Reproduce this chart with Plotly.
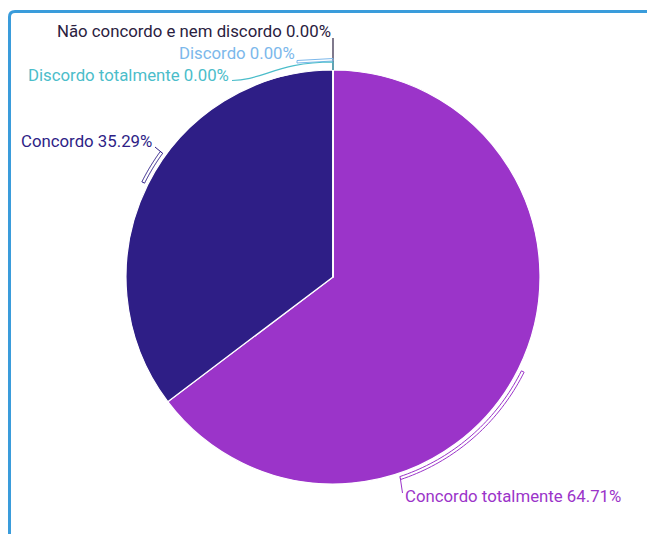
import math
import plotly.graph_objects as go

# Survey answers and their shares (percent)
categories = [
    "Concordo totalmente",
    "Concordo",
    "Não concordo e nem discordo",
    "Discordo",
    "Discordo totalmente",
]
shares = [64.71, 35.29, 0.0, 0.0, 0.0]
slice_colors = ["#9b34c9", "#2e1e86", "#2a2140", "#7cb8eb", "#4bbdca"]

W, H = 647, 534
CX, CY, R = 333, 277, 207  # pie centre and radius in page pixels

fig = go.Figure()

# Hidden pixel-space axes used for the frame, connectors and labels
fig.add_trace(go.Scatter(x=[], y=[], showlegend=False, hoverinfo="skip"))

fig.add_trace(go.Pie(
    labels=categories,
    values=shares,
    sort=False,
    direction="clockwise",
    rotation=0,
    marker=dict(colors=slice_colors, line=dict(color="white", width=1.2)),
    textinfo="none",
    hovertemplate="%{label}: %{percent:.2%}<extra></extra>",
    domain=dict(x=[(CX - R) / W, (CX + R) / W],
                y=[(H - CY - R) / H, (H - CY + R) / H]),
    showlegend=False,
))


def polar(theta_deg, r):
    t = math.radians(theta_deg)
    return CX + r * math.sin(t), CY - r * math.cos(t)


def band_path(a0, a1, r_in, r_out, n=40):
    pts = [polar(a0 + (a1 - a0) * i / n, r_out) for i in range(n + 1)]
    pts += [polar(a1 - (a1 - a0) * i / n, r_in) for i in range(n + 1)]
    return "M " + " L ".join(f"{x:.2f},{y:.2f}" for x, y in pts) + " Z"


# Slice mid angles from the values
total = sum(shares)
mids = []
acc = 0.0
for v in shares:
    mids.append((acc + v / 2) / total * 360)
    acc += v

shapes = []

# Outer frame of the card
shapes.append(dict(
    type="path", xref="x", yref="y",
    path="M 9.5,560 L 9.5,17 Q 9.5,11.5 15,11.5 L 700,11.5",
    line=dict(color="#3a9cdb", width=3), layer="above",
))

# Bracket connectors for the two non-empty slices
bracket_ends = {0: 161.5, 1: 306.0}
label_anchor = {0: (402.5, 493.0), 1: (155.0, 147.0)}
for i, end in bracket_ends.items():
    a0, a1 = mids[i], end
    shapes.append(dict(type="path", xref="x", yref="y",
                       path=band_path(a0, a1, R + 3.5, R + 6.5),
                       line=dict(color=slice_colors[i], width=1), layer="above"))
    bx, by = polar(a1, R + 5)
    lx, ly = label_anchor[i]
    shapes.append(dict(type="path", xref="x", yref="y",
                       path=f"M {bx:.2f},{by:.2f} L {lx},{ly}",
                       line=dict(color=slice_colors[i], width=1), layer="above"))

# Leader lines for the empty slices at the top of the pie
tx, ty = polar(mids[2], R)
shapes.append(dict(type="path", xref="x", yref="y",
                   path=f"M {tx:.2f},38 L {tx:.2f},{ty:.2f}",
                   line=dict(color=slice_colors[2], width=1.2), layer="above"))
shapes.append(dict(type="path", xref="x", yref="y",
                   path=f"M 297,60.5 L {tx:.2f},58.5 L {tx:.2f},61 L 297,63 Z",
                   line=dict(color=slice_colors[3], width=1), layer="above"))
shapes.append(dict(type="path", xref="x", yref="y",
                   path=f"M 232,80.5 C 262,80.5 278,62 {tx:.2f},62 L {tx:.2f},{ty:.2f}",
                   line=dict(color=slice_colors[4], width=1.2), layer="above"))

# Data labels
label_pos = [
    (403, 496, "left"),
    (154, 141, "right"),
    (333, 30.5, "right"),
    (297, 53, "right"),
    (231, 75, "right"),
]
annotations = []
for (x, y, anchor), name, v, c in zip(label_pos, categories, shares, slice_colors):
    annotations.append(dict(
        x=x, y=y, xref="x", yref="y", xanchor=anchor, yanchor="middle",
        text=f"{name} {v:.2f}%", showarrow=False,
        font=dict(family="Roboto", size=16.8, color=c),
    ))

fig.update_layout(
    width=W, height=H,
    margin=dict(l=0, r=0, t=0, b=0),
    paper_bgcolor="white", plot_bgcolor="rgba(0,0,0,0)",
    xaxis=dict(range=[0, W], visible=False, fixedrange=True),
    yaxis=dict(range=[H, 0], visible=False, fixedrange=True),
    shapes=shapes,
    annotations=annotations,
    font=dict(family="Roboto"),
)

fig.write_html("out.html")
